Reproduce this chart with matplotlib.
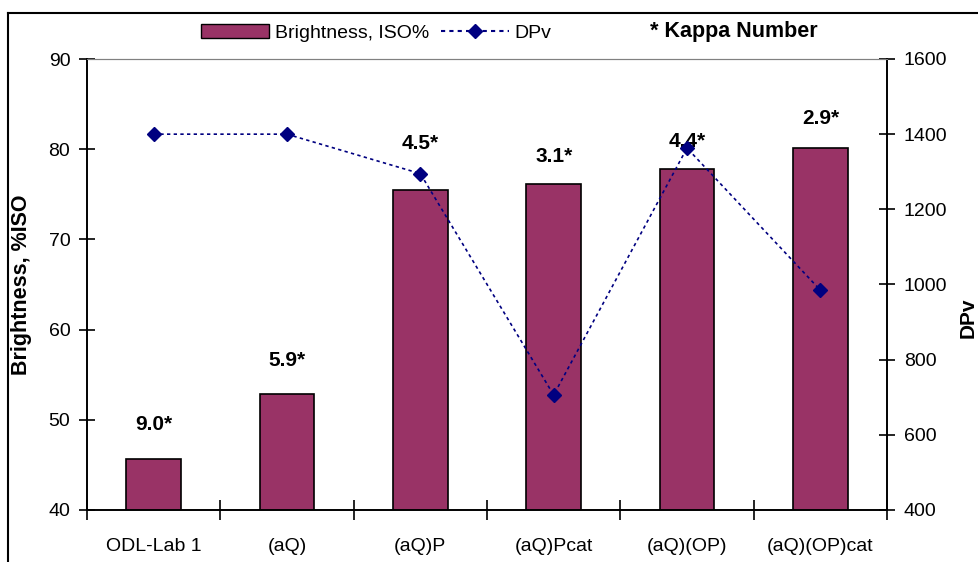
import matplotlib.pyplot as plt
import matplotlib.patches as patches
import numpy as np

plt.rcParams['font.family'] = ['Liberation Sans', 'DejaVu Sans']

# data
categories = ["ODL-Lab 1", "(aQ)", "(aQ)P", "(aQ)Pcat", "(aQ)(OP)", "(aQ)(OP)cat"]
brightness = [45.7, 52.9, 75.5, 76.1, 77.8, 80.1]
dpv = [1400, 1400, 1295, 706, 1363, 985]
kappa = ["9.0*", "5.9*", "4.5*", "3.1*", "4.4*", "2.9*"]
kappa_y = [49.5, 56.6, 80.6, 79.2, 80.9, 83.4]

C_BAR = "#993366"
C_LINE = "#000080"

fig = plt.figure(figsize=(9.79, 5.62), dpi=100, facecolor="white")
ax = fig.add_axes([87/979, 1 - 510/562, 800/979, 451/562])
ax2 = ax.twinx()

x = np.arange(len(categories))
ax.bar(x, brightness, width=0.41, color=C_BAR, edgecolor="black", linewidth=1.2, zorder=2)
ax.set_xlim(-0.5, len(categories) - 0.5)
ax.set_ylim(40, 90)
ax.set_yticks(range(40, 91, 10))

for xi, txt, yy in zip(x, kappa, kappa_y):
    ax.text(xi, yy, txt, ha="center", va="center", fontsize=15, fontweight="bold", zorder=5)

ax2.plot(x, dpv, linestyle=(0, (2, 2)), color=C_LINE, lw=1.2, marker="D",
         markersize=7, zorder=3)
ax2.set_ylim(400, 1600)
ax2.set_yticks(range(400, 1601, 200))

# ticks at category boundaries, labels at centres
ax.set_xticks(np.arange(-0.5, len(categories), 1))
ax.set_xticklabels([])
ax.set_xticks(x, minor=True)
ax.set_xticklabels(categories, minor=True, fontsize=14)
ax.tick_params(axis="x", which="major", direction="inout", length=14, width=1.2)
ax.tick_params(axis="x", which="minor", length=0, pad=20)
ax.tick_params(axis="y", direction="inout", length=12, width=1.2, labelsize=14, pad=6)
ax2.tick_params(axis="y", direction="inout", length=12, width=1.2, labelsize=14, pad=6)

for a in (ax, ax2):
    a.spines["top"].set_color("#808080")
    a.spines["left"].set_linewidth(1.2)
    a.spines["right"].set_linewidth(1.2)
    a.spines["bottom"].set_linewidth(1.2)

ax.set_ylabel("Brightness, %ISO", fontsize=15.5, fontweight="bold", labelpad=12)
fig.text(959/979, 1 - 318/562, "DPv", rotation=90, ha="left", va="center",
         fontsize=15, fontweight="bold")

# legend above the plot
leg_handles = [
    patches.Patch(facecolor=C_BAR, edgecolor="black"),
    plt.Line2D([], [], linestyle=(0, (2, 2)), color=C_LINE, marker="D", markersize=7),
]
fig.legend(leg_handles, ["Brightness, ISO%", "DPv"], loc="center", ncol=2,
           bbox_to_anchor=(376/979, 1 - 33/562), frameon=False, fontsize=14,
           handlelength=3.5, handletextpad=0.3, columnspacing=0.6)
fig.text(734/979, 1 - 32/562, "* Kappa Number", ha="center", va="center",
         fontsize=15.5, fontweight="bold")

# outer chart border (cropped at right and bottom)
fig.add_artist(plt.Line2D([8/979, 1], [1 - 13/562, 1 - 13/562], color="black", lw=1.5,
                          transform=fig.transFigure))
fig.add_artist(plt.Line2D([8/979, 8/979], [0, 1 - 13/562], color="black", lw=1.5,
                          transform=fig.transFigure))

fig.savefig("out.png", dpi=100)
